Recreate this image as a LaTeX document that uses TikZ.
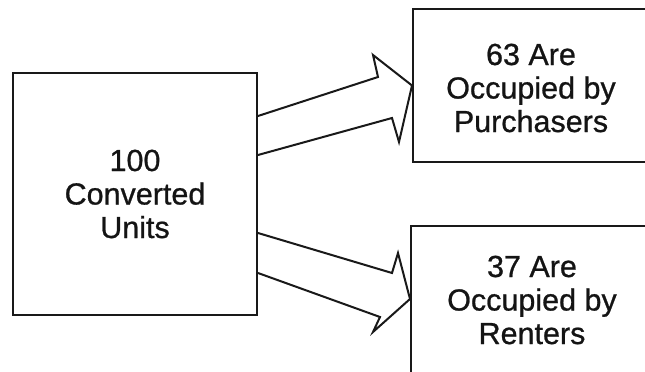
\documentclass[tikz,border=0pt]{standalone}
\usepackage{fontspec}
\setmainfont{Liberation Sans}
\newfontfamily\heavyfont[FakeBold=0.8]{Liberation Sans}
\usetikzlibrary{calc}
\begin{document}
\begin{tikzpicture}[x=1pt,y=-1pt,
  txt/.style={align=center, font=\heavyfont\fontsize{30.5}{33.5}\selectfont, text=black!92},
  box/.style={draw=black!90, line width=2pt, align=center, inner sep=0pt, txt},
  blockarrow/.style={draw=black!90, line width=2pt, line join=miter, fill=white}]
\useasboundingbox (0,0) rectangle (645,372);
\clip (0,0) rectangle (645,372);
\node[box, minimum width=244pt, minimum height=242pt] (L) at (135,194)
  {100\\Converted\\Units};
\node[box, minimum width=240pt, minimum height=153pt, anchor=west] (T) at (412,85.5) {};
\node[txt] (Tt) at (531,88) {63 Are\\Occupied by\\Purchasers};
\node[box, minimum width=240pt, minimum height=150pt, anchor=north west] (B) at (410,225) {};
\node[txt] (Bt) at (532,300) {37 Are\\Occupied by\\Renters};
% upper block arrow
\draw[blockarrow] ($(L.east)+(0,-78)$) -- ($(T.west)+(-34,-8.5)$) -- ($(T.west)+(-39,-30.5)$)
  -- (T.west) -- ($(T.west)+(-13,56.5)$) -- ($(T.west)+(-20,32.5)$) -- ($(L.east)+(0,-39)$);
% lower block arrow
\coordinate (Btip) at (410,299);
\draw[blockarrow] ($(L.east)+(0,39)$) -- ($(Btip)+(-18,-26)$) -- ($(Btip)+(-12,-46)$)
  -- (Btip) -- ($(Btip)+(-37,33)$) -- ($(Btip)+(-30,18)$) -- ($(L.east)+(0,79)$);
\end{tikzpicture}
\end{document}
